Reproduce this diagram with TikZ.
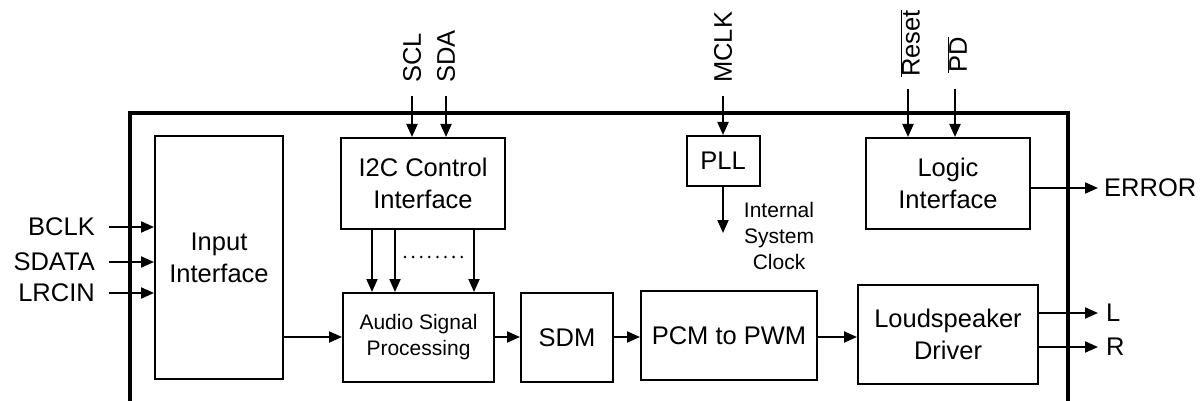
\documentclass[tikz,border=0pt]{standalone}
\usepackage{fontspec}
\setmainfont{Liberation Sans}
\usetikzlibrary{arrows.meta,calc}
\begin{document}
\begin{tikzpicture}[x=1pt,y=-1pt,
  blk/.style={draw,line width=2pt,rectangle,inner sep=0pt,align=center,font=\fontsize{25.5}{32}\selectfont},
  sblk/.style={blk,font=\fontsize{21}{26}\selectfont},
  arr/.style={line width=2pt,-{Triangle[length=13pt,width=11pt]}},
  lbl/.style={inner sep=0pt,font=\fontsize{25.5}{30}\selectfont},
  slbl/.style={inner sep=0pt,align=center,font=\fontsize{21}{26}\selectfont},
  chip/.style={line width=4.5pt}]
\useasboundingbox (0,0) rectangle (1200,401);
% chip outline
\coordinate (cbl) at (130,403);
\coordinate (ctl) at (130,113);
\coordinate (ctr) at (1068,113);
\coordinate (cbr) at (1068,403);
\draw[chip] (cbl) -- (ctl) -- (ctr) -- (cbr);
% blocks
\node[blk,minimum width=128pt,minimum height=243pt] (inp) at (219,257.5) {Input\\Interface};
\node[blk,minimum width=164pt,minimum height=91pt] (i2c) at (423,183.5) {I2C Control\\Interface};
\node[blk,minimum width=73pt,minimum height=50pt] (pll) at (723,161) {PLL};
\node[blk,minimum width=164pt,minimum height=91pt] (logic) at (948,183.5) {Logic\\Interface};
\node[sblk,minimum width=151pt,minimum height=89pt] (asp) at (418.5,337.5) {Audio Signal\\Processing};
\node[blk,minimum width=92pt,minimum height=89pt] (sdm) at (567,337.5) {SDM};
\node[blk,minimum width=176pt,minimum height=89pt] (pcm) at (729,335.5) {PCM to PWM};
\node[blk,minimum width=180pt,minimum height=99pt] (spk) at (948,334.5) {Loudspeaker\\Driver};
% inputs left
\coordinate (bclk) at (109,227);
\coordinate (sdata) at (109,262);
\coordinate (lrcin) at (109,293);
\node[lbl,anchor=east] (lbclk) at (95,227) {BCLK};
\node[lbl,anchor=east] (lsdata) at (95,262) {SDATA};
\node[lbl,anchor=east] (llrcin) at (95,293) {LRCIN};
\draw[arr] (bclk) -- (bclk -| inp.west);
\draw[arr] (sdata) -- (sdata -| inp.west);
\draw[arr] (lrcin) -- (lrcin -| inp.west);
% top inputs
\coordinate (scl) at (412,96);
\coordinate (sda) at (446,96);
\coordinate (mclk) at (723,96);
\coordinate (rst) at (908,89);
\coordinate (pd) at (955,89);
\node[lbl,anchor=west,rotate=90] (lscl) at (412,83) {SCL};
\node[lbl,anchor=west,rotate=90] (lsda) at (446,83) {SDA};
\node[lbl,anchor=west,rotate=90] (lmclk) at (723,83) {MCLK};
\node[lbl,anchor=west,rotate=90] (lrst) at (910,77) {$\overline{\hbox{Reset}}$};
\node[lbl,anchor=west,rotate=90] (lpd) at (957,73) {$\overline{\hbox{PD}}$};
\draw[arr] (scl) -- (scl |- i2c.north);
\draw[arr] (sda) -- (sda |- i2c.north);
\draw[arr] (mclk) -- (pll.north);
\draw[arr] (rst) -- (rst |- logic.north);
\draw[arr] (pd) -- (pd |- logic.north);
% PLL output
\coordinate (clk) at (723,233);
\draw[arr] (pll.south) -- (clk);
\node[slbl] (lclk) at (779,236) {Internal\\System\\Clock};
% I2C to ASP
\coordinate (b1) at (372,229);
\coordinate (b2) at (395,229);
\coordinate (b3) at (474,229);
\draw[arr] (b1) -- (b1 |- asp.north);
\draw[arr] (b2) -- (b2 |- asp.north);
\draw[arr] (b3) -- (b3 |- asp.north);
\coordinate (d1) at (405,257);
\coordinate (d2) at (462,257);
\draw[line width=2.8pt,line cap=round,dash pattern=on 0pt off 8.1pt] (d1) -- (d2);
% signal chain
\coordinate (io) at (283,337);
\draw[arr] (io) -- (io -| asp.west);
\draw[arr] (asp.east |- 0,337) -- (sdm.west |- 0,337);
\draw[arr] (sdm.east |- 0,337) -- (pcm.west |- 0,337);
\draw[arr] (pcm.east |- 0,337) -- (spk.west |- 0,337);
% outputs
\coordinate (err) at (1098,188);
\coordinate (lo) at (1098,313);
\coordinate (ro) at (1098,347);
\draw[arr] (err -| logic.east) -- (err);
\draw[arr] (lo -| spk.east) -- (lo);
\draw[arr] (ro -| spk.east) -- (ro);
\node[lbl,anchor=west] (lerr) at (1104,188) {ERROR};
\node[lbl,anchor=west] (ll) at (1106,313) {L};
\node[lbl,anchor=west] (lr) at (1106,347) {R};
\end{tikzpicture}
\end{document}
